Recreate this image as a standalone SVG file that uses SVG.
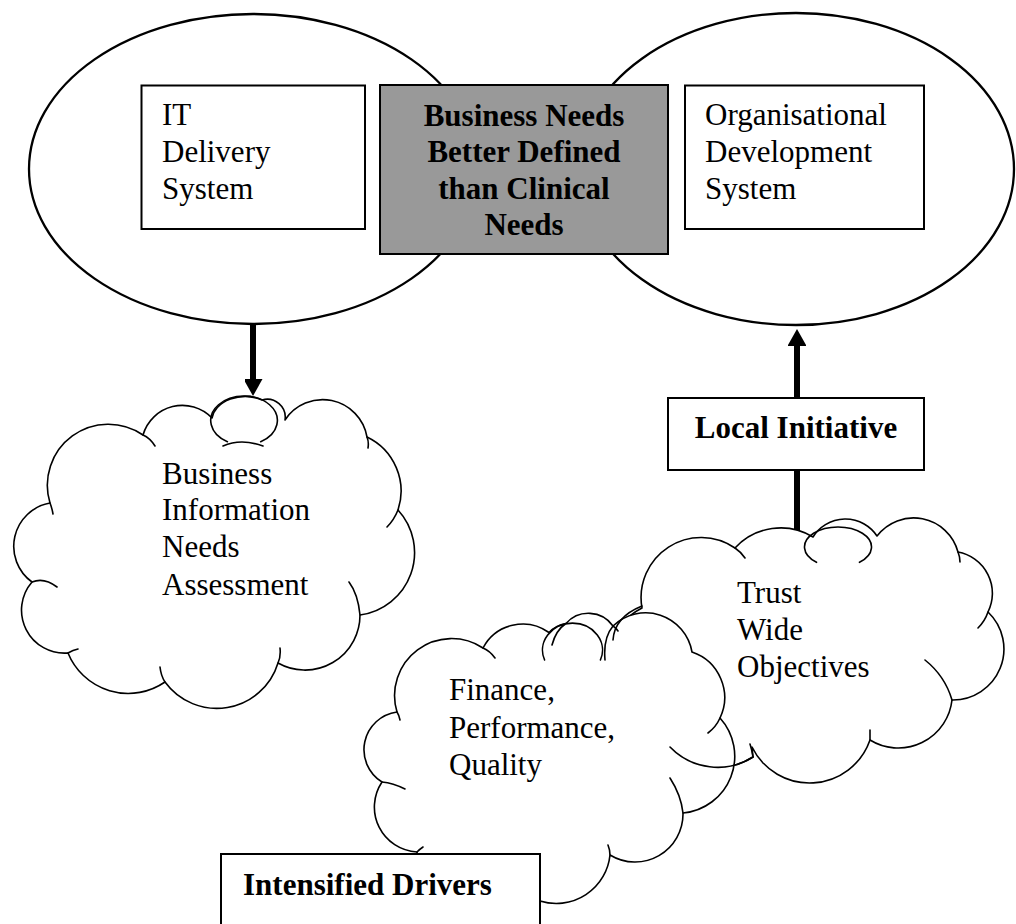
<svg xmlns="http://www.w3.org/2000/svg" width="1016" height="924" viewBox="0 0 1016 924">
<style>
.bg{fill:#ffffff}
.ell{fill:#ffffff;stroke:#000;stroke-width:2.3}
.box{fill:#ffffff;stroke:#000;stroke-width:2}
.gbox{fill:#999999;stroke:#000;stroke-width:2}
.cloud{fill:#ffffff;stroke:#000;stroke-width:1.6;stroke-linejoin:round}
.tick{fill:none;stroke:#000;stroke-width:1.6;stroke-linecap:round}
.t{font-family:"Liberation Serif","Times New Roman",serif;font-size:31px;fill:#000}
.b{font-family:"Liberation Serif","Times New Roman",serif;font-size:31px;font-weight:bold;fill:#000}
.conn{stroke:#000;stroke-width:6;fill:none}
</style>
<defs>
<marker id="ah" markerUnits="userSpaceOnUse" markerWidth="20" markerHeight="18" refX="2" refY="9.5" orient="auto">
<path d="M0,0 L17,9.5 L0,19 Z" fill="#000"/>
</marker>
</defs>
<rect class="bg" x="0" y="0" width="1016" height="924"/>

<g id="it-system">
<ellipse class="ell" cx="253" cy="169" rx="224" ry="155"/>
</g>
<g id="org-system">
<ellipse class="ell" cx="796" cy="169" rx="218" ry="156"/>
</g>
<g id="it-delivery">
<rect class="box" x="141.5" y="85.5" width="223.5" height="143.5"/>
<text class="t" x="162" y="125">IT</text>
<text class="t" x="162" y="162">Delivery</text>
<text class="t" x="162" y="199">System</text>
</g>
<g id="business-needs">
<rect class="gbox" x="380" y="85" width="288" height="169"/>
<text class="b" x="524" y="126" text-anchor="middle">Business Needs</text>
<text class="b" x="524" y="162" text-anchor="middle">Better Defined</text>
<text class="b" x="524" y="199" text-anchor="middle">than Clinical</text>
<text class="b" x="524" y="235" text-anchor="middle">Needs</text>
</g>
<g id="org-development">
<rect class="box" x="685" y="85.5" width="239" height="143.5"/>
<text class="t" x="705" y="125">Organisational</text>
<text class="t" x="705" y="162">Development</text>
<text class="t" x="705" y="199">System</text>
</g>

<g id="connectors">
<line class="conn" x1="253" y1="324" x2="253" y2="381" marker-end="url(#ah)"/>
<line class="conn" x1="797" y1="533" x2="797" y2="344" marker-end="url(#ah)"/>
</g>

<g id="business-info-cloud">
<path class="cloud" d="M50,503 A61,61 0 0 1 143,435 A41,41 0 0 1 212,418 A33.3,24.5 0 0 1 262,400 A18,18 0 0 1 285,420 A45,45 0 0 1 367,437 A60,60 0 0 1 398,510 A63,63 0 0 1 360,615 A55,55 0 0 1 278,663 A64,64 0 0 1 165,682 A65,65 0 0 1 68,653 A43,43 0 0 1 32,582 A44,44 0 0 1 50,503 Z"/>
<path class="tick" d="M50,503 Q52,508 53,514 M143,435 Q150,438 155,446 M367,437 Q369,442 368,448 M398,510 Q394,520 387,527 M349,582 Q358,594 360,615 M280,648 Q281,656 278,663 M160,667 Q161,676 165,682 M68,653 Q73,650 78,649 M32,582 Q44,577 57,587 M227.4,441.7 A33.3,24.5 0 1 1 260.7,441.7 M223,446 Q241,438 263,446"/>
<text class="t" x="162" y="484">Business</text>
<text class="t" x="162" y="520">Information</text>
<text class="t" x="162" y="557">Needs</text>
<text class="t" x="162" y="595">Assessment</text>
</g>

<g id="trust-cloud">
<path class="cloud" d="M642,608 A60,60 0 0 1 735,548 A62,62 0 0 1 813,537 A38,38 0 0 1 877,536 A46,46 0 0 1 958,552 A42,42 0 0 1 988,612 A51,51 0 0 1 952,700 A54,54 0 0 1 870,740 A64,64 0 0 1 752,747 L753,757 A66,66 0 0 1 670,747 L630,690 L610,655 Q614,622 642,608 Z"/>
<path class="tick" d="M735,548 Q741,552 745,558 M816.5,562.3 A33.5,20 0 1 1 859.5,562.3 M958,552 Q960,557 960,562 M988,612 Q985,621 978,628 M925,660 Q945,676 952,700 M870,730 L870,740 M753,757 Q752,750 750,744"/>
<text class="t" x="737" y="603">Trust</text>
<text class="t" x="737" y="640">Wide</text>
<text class="t" x="737" y="677">Objectives</text>
</g>

<g id="finance-cloud">
<path class="cloud" d="M397,712 A57,57 0 0 1 483,648 A45,45 0 0 1 549,632.5 A30,27 0 0 1 566,623.5 A30,30 0 0 1 613,626 A47,47 0 0 1 692,652 A48,48 0 0 1 720,718 A57,57 0 0 1 683,813 A48,48 0 0 1 610,855 A54,54 0 0 1 540,901 L540,930 L417,930 L417,852 A45,45 0 0 1 382,782 A38,38 0 0 1 397,712 Z"/>
<path class="tick" d="M483,648 Q490,651 495,658 M397,712 Q399,715 400,720 M544.6,660 A30,27 0 1 1 600.4,660 M552,645 Q556,630 566,623.5 M613,626 Q616,628 618,631 M605,660 Q603,638 613,626 M720,718 Q716,727 708,733 M670,778 Q681,795 683,813 M610,855 Q610,850 608,845 M382,782 Q393,783 405,789 M417,852 Q420,849 423,847"/>
<path class="tick" d="M753,757 A66,66 0 0 1 670,747 M613,640 Q614.5,617 642,606"/>
<text class="t" x="449" y="700">Finance,</text>
<text class="t" x="449" y="738">Performance,</text>
<text class="t" x="449" y="775">Quality</text>
</g>

<g id="local-initiative">
<rect class="box" x="668" y="398" width="256" height="72"/>
<text class="b" x="796" y="438" text-anchor="middle">Local Initiative</text>
</g>

<g id="intensified-drivers">
<rect class="box" x="221" y="854" width="319" height="80"/>
<text class="b" x="243" y="895">Intensified Drivers</text>
</g>
</svg>
